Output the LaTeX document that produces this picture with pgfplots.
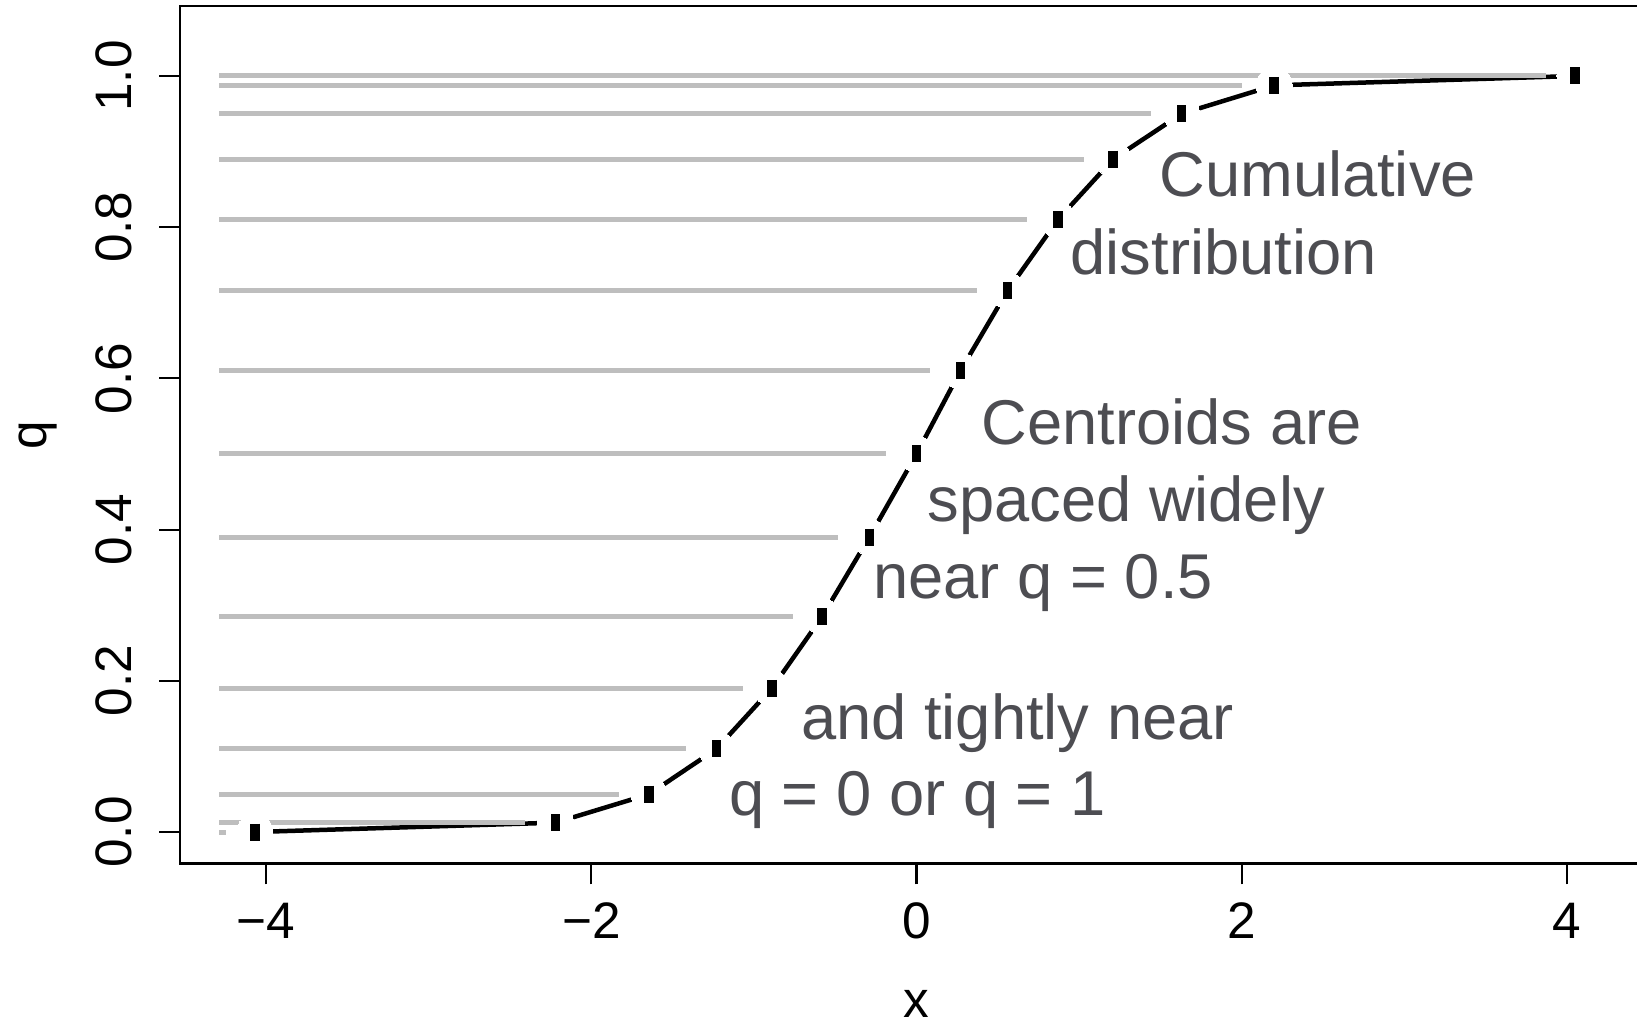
\documentclass[border=0pt]{standalone}
\usepackage{fontspec}
\setmainfont{Liberation Sans}
\usepackage{pgfplots}
\pgfplotsset{compat=1.18}
\definecolor{anno}{RGB}{77,77,82}
\definecolor{centgrey}{RGB}{190,190,190}
\begin{document}
\begin{tikzpicture}
\useasboundingbox (-1.80,-1.593) rectangle (14.57,8.637);
\begin{axis}[
  at={(0,0)}, anchor=south west,
  width=14.73cm, height=8.577cm, scale only axis,
  xmin=-4.53, xmax=4.53, ymin=-0.0419, ymax=1.0926,
  xtick={-4,-2,0,2,4}, xticklabels={−4,−2,0,2,4},
  ytick={0,0.2,0.4,0.6,0.8,1}, yticklabels={0.0,0.2,0.4,0.6,0.8,1.0},
  xtick pos=bottom, ytick pos=left,
  tick align=outside, major tick length=0.206cm,
  tick style={black, line width=0.022cm},
  axis line style={line width=0.028cm},
  tick label style={font=\fontsize{14.6}{17}\selectfont},
  xticklabel style={anchor=base}, xticklabel shift=0.54cm,
  yticklabel style={rotate=90, anchor=base}, yticklabel shift=0.277cm,
  label style={font=\fontsize{14.6}{17}\selectfont, inner sep=0pt},
  xlabel={x}, ylabel={q},
  xlabel style={at={(axis description cs:0.5,-0.179)}, anchor=base},
  ylabel style={at={(axis description cs:-0.0903,0.5)}, anchor=base},
]
% curve through the centroids
\addplot[black, line width=0.045cm, line cap=butt] coordinates {
  (-4.07,0) (-2.22,0.0124) (-1.645,0.05) (-1.23,0.11) (-0.89,0.19)
  (-0.58,0.285) (-0.29,0.39) (0,0.5) (0.27,0.61) (0.56,0.716)
  (0.87,0.81) (1.21,0.89) (1.63,0.95) (2.2,0.9876) (4.05,1.0)};
% gaps round the points
\addplot[white, only marks, mark=*, mark size=0.18cm, mark options={draw=white, fill=white, line width=0pt}] coordinates {
  (-4.07,0) (-2.22,0.0124) (-1.645,0.05) (-1.23,0.11) (-0.89,0.19)
  (-0.58,0.285) (-0.29,0.39) (0,0.5) (0.27,0.61) (0.56,0.716)
  (0.87,0.81) (1.21,0.89) (1.63,0.95) (2.2,0.9876) (4.05,1.0)};
% centroid levels
\addplot[centgrey, line width=0.05cm, unbounded coords=jump] coordinates {
  (-4.29,0) (-4.25,0) (nan,nan)
  (-4.29,0.0124) (-2.41,0.0124) (nan,nan)
  (-4.29,0.05) (-1.83,0.05) (nan,nan)
  (-4.29,0.11) (-1.42,0.11) (nan,nan)
  (-4.29,0.19) (-1.07,0.19) (nan,nan)
  (-4.29,0.285) (-0.76,0.285) (nan,nan)
  (-4.29,0.39) (-0.48,0.39) (nan,nan)
  (-4.29,0.5) (-0.19,0.5) (nan,nan)
  (-4.29,0.61) (0.08,0.61) (nan,nan)
  (-4.29,0.716) (0.37,0.716) (nan,nan)
  (-4.29,0.81) (0.68,0.81) (nan,nan)
  (-4.29,0.89) (1.03,0.89) (nan,nan)
  (-4.29,0.95) (1.44,0.95) (nan,nan)
  (-4.29,0.9876) (2.0,0.9876) (nan,nan)
  (-4.29,1.0) (3.87,1.0)};
% centroid points
\addplot[black, only marks, mark=|, mark size=0.085cm, line width=0.095cm, line cap=butt,
  mark options={black, line width=0.095cm, line cap=butt}] coordinates {
  (-4.07,0) (-2.22,0.0124) (-1.645,0.05) (-1.23,0.11) (-0.89,0.19)
  (-0.58,0.285) (-0.29,0.39) (0,0.5) (0.27,0.61) (0.56,0.716)
  (0.87,0.81) (1.21,0.89) (1.63,0.95) (2.2,0.9876) (4.05,1.0)};
\begin{scope}[every node/.style={anno, font=\fontsize{18}{21}\selectfont, anchor=base west, inner sep=0pt}]
\node at (axis cs:1.490,0.841) {Cumulative};
\node at (axis cs:0.944,0.737) {distribution};
\node at (axis cs:0.398,0.512) {Centroids are};
\node at (axis cs:0.064,0.411) {spaced widely};
\node at (axis cs:-0.269,0.309) {near q = 0.5};
\node at (axis cs:-0.713,0.123) {and tightly near};
\node at (axis cs:-1.156,0.022) {q = 0 or q = 1};
\end{scope}
\end{axis}
\end{tikzpicture}
\end{document}
